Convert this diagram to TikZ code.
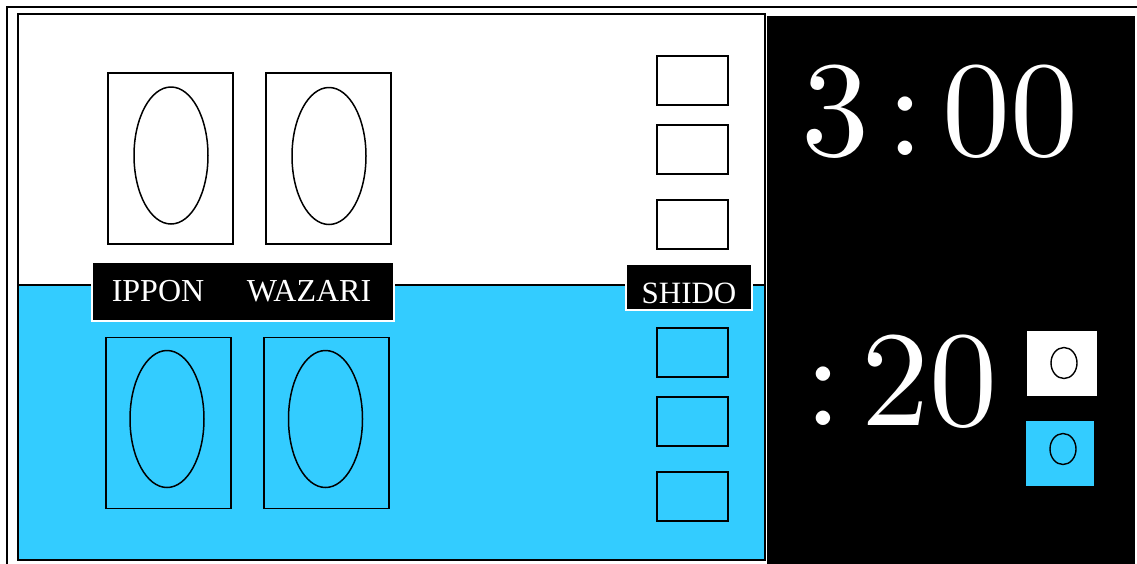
\documentclass[tikz,border=0pt]{standalone}
\usepackage{fontspec}
\newfontfamily\labfont{Liberation Serif}
\newfontfamily\clockfont{lmroman10-regular.otf}
\usetikzlibrary{shapes.geometric}
\definecolor{judoblue}{RGB}{51,204,255}
\begin{document}
\begin{tikzpicture}[x=1pt,y=-1pt,
  frame/.style={draw=black,line width=1.5pt},
  scorebox/.style={draw=black,line width=1.5pt,minimum width=125pt,minimum height=171pt,inner sep=0pt},
  oval/.style={ellipse,draw=black,line width=1.5pt,minimum width=74pt,minimum height=137pt,inner sep=0pt},
  shidobox/.style={draw=black,line width=1.4pt,minimum width=71pt,minimum height=49pt,inner sep=0pt},
  labelbox/.style={fill=black,draw=white,line width=1.2pt,inner sep=0pt},
  labeltext/.style={text=white,font=\labfont\fontsize{32}{32}\selectfont,inner sep=0pt,anchor=base},
  clock/.style={text=white,font=\clockfont\fontsize{136}{136}\selectfont,inner sep=0pt,anchor=base},
  osaekomi/.style={line width=1.3pt,minimum width=68pt,minimum height=63pt,inner sep=0pt},
  smalloval/.style={ellipse,draw=black,line width=1.4pt,minimum width=26pt,minimum height=31pt,inner sep=0pt}]
\useasboundingbox (0,0) rectangle (1137,563);
\fill[white] (0,0) rectangle (1137,563);
% outer frame
\draw[frame] (7,570) -- (7,7) -- (1145,7);
% left panel
\fill[white] (18,14) rectangle (765,285);
\fill[judoblue] (18,285) rectangle (765,560);
\draw[frame] (18,14) rectangle (765,560);
\draw[frame] (18,285) -- (765,285);
% right panel
\fill[black] (767,16) rectangle (1135,570);
% score boxes
\node[scorebox,fill=white] (ipponW) at (170.5,158.5) {};
\node[scorebox,fill=white] (wazariW) at (328.5,158.5) {};
\node[scorebox,fill=judoblue] (ipponB) at (168.5,423) {};
\node[scorebox,fill=judoblue] (wazariB) at (326.5,423) {};
\node[oval] (ovIW) at (171,155.5) {};
\node[oval] (ovWW) at (329,156) {};
\node[oval] (ovIB) at (167,419) {};
\node[oval] (ovWB) at (325.5,419) {};
% labels
\node[labelbox,minimum width=302pt,minimum height=59pt] (lblbox) at (243,291.5) {};
\node[labeltext] (ippon) at (158,301) {IPPON};
\node[labeltext] (wazari) at (309,301) {WAZARI};
% shido boxes
\node[shidobox,fill=white] (s1) at (692.5,80.5) {};
\node[shidobox,fill=white] (s2) at (692.5,149.5) {};
\node[shidobox,fill=white] (s3) at (692.5,224.5) {};
\node[shidobox,fill=judoblue] (s4) at (692.5,352.5) {};
\node[shidobox,fill=judoblue] (s5) at (692.5,421.5) {};
\node[shidobox,fill=judoblue] (s6) at (692.5,496.5) {};
\node[labelbox,minimum width=126pt,minimum height=46pt] (shidobg) at (689,287) {};
\node[labeltext,font=\labfont\fontsize{31}{31}\selectfont] (shido) at (689,303) {SHIDO};
% clock
\node[clock] (min) at (835,155) {3};
\node[clock] (colA) at (905,155) {:};
\node[clock] (sec) at (1010,155) {00};
\node[clock] (colB) at (823,425) {:};
\node[clock] (osk) at (929,425) {20};
% osaekomi indicators
\node[osaekomi,fill=white,draw=white] (oW) at (1062,363.5) {};
\node[smalloval] (oWo) at (1064,363) {};
\node[osaekomi,fill=judoblue,draw=judoblue,minimum width=66pt] (oB) at (1060,453.5) {};
\node[smalloval] (oBo) at (1063,449) {};
\end{tikzpicture}
\end{document}
